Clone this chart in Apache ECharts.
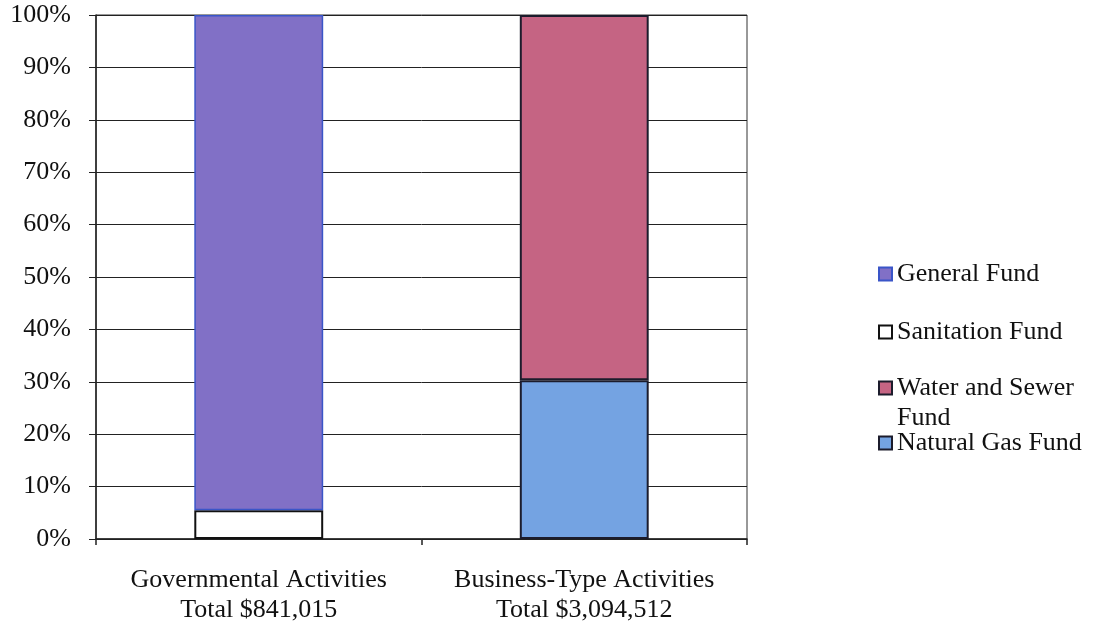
<!DOCTYPE html>
<html>
<head>
<meta charset="utf-8">
<title>Fund Composition by Activity Type</title>
<script src="https://cdn.jsdelivr.net/npm/echarts@6/dist/echarts.min.js"></script>
<style>
  html, body { margin: 0; padding: 0; background: #fff; }
  #chart { width: 1095px; height: 625px; }
</style>
</head>
<body>
<div id="chart"></div>
<script>
// Activity categories (x axis)
const categories = [
  'Governmental Activities\nTotal $841,015',
  'Business-Type Activities\nTotal $3,094,512'
];

// Share of each fund within its activity total, in percent
const naturalGasFund = [null, 30.3];
const waterSewerFund = [null, 69.7];
const sanitationFund = [5.5, null];
const generalFund = [94.5, null];

// Y axis range
const yMin = 0;
const yMax = 100;
const yStep = 10;

const FONT = '"Liberation Serif", "Times New Roman", serif';

const chart = echarts.init(document.getElementById('chart'), null, { renderer: 'canvas' });

function legendAt(name, top) {
  return {
    data: [name],
    left: 878,
    top: top,
    padding: 0,
    orient: 'vertical',
    icon: 'rect',
    itemWidth: 13,
    itemHeight: 13,
    selectedMode: false,
    formatter: n => (n === 'Water and Sewer Fund' ? 'Water and Sewer' : n),
    textStyle: { fontFamily: FONT, fontSize: 26, color: '#111', lineHeight: 28 }
  };
}

const barWidth = '39.6%';

chart.setOption({
  animation: false,
  backgroundColor: '#fff',
  grid: {
    left: 96, right: 348, top: 15, bottom: 86,
    show: true, borderColor: '#333', borderWidth: 1
  },
  legend: [
    legendAt('General Fund', 260),
    legendAt('Sanitation Fund', 318),
    legendAt('Water and Sewer Fund', 374),
    legendAt('Natural Gas Fund', 429)
  ],
  graphic: [{
    type: 'text',
    left: 897,
    top: 405,
    style: { text: 'Fund', font: '26px ' + FONT, fill: '#111' }
  }],
  xAxis: {
    type: 'category',
    data: categories,
    axisLine: { lineStyle: { color: '#222', width: 1.5 } },
    axisTick: { show: true, alignWithLabel: false, interval: 0, length: 6, lineStyle: { color: '#222', width: 1.5 } },
    axisLabel: {
      interval: 0, margin: 26, fontFamily: FONT, fontSize: 26, color: '#111',
      lineHeight: 30, align: 'center'
    }
  },
  yAxis: {
    type: 'value',
    min: yMin, max: yMax, interval: yStep,
    axisLine: { show: true, lineStyle: { color: '#222', width: 1.5 } },
    axisTick: { show: true, length: 7, lineStyle: { color: '#222' } },
    axisLabel: { formatter: '{value}%', margin: 25, fontFamily: FONT, fontSize: 26, color: '#111' },
    splitLine: { show: true, lineStyle: { color: '#222', width: 1 } }
  },
  series: [
    {
      name: 'Natural Gas Fund', type: 'bar', stack: 'share', barWidth: barWidth,
      data: naturalGasFund,
      itemStyle: { color: '#74a3e2', borderColor: '#1c1c2c', borderWidth: 2 }
    },
    {
      name: 'Water and Sewer Fund', type: 'bar', stack: 'share', barWidth: barWidth,
      data: waterSewerFund,
      itemStyle: { color: '#c56483', borderColor: '#1c1c2c', borderWidth: 2 }
    },
    {
      name: 'Sanitation Fund', type: 'bar', stack: 'share', barWidth: barWidth,
      data: sanitationFund,
      itemStyle: { color: '#ffffff', borderColor: '#111', borderWidth: 2 }
    },
    {
      name: 'General Fund', type: 'bar', stack: 'share', barWidth: barWidth,
      data: generalFund,
      itemStyle: { color: '#8170c6', borderColor: '#3a55c8', borderWidth: 1.5 }
    }
  ]
});
</script>
</body>
</html>
